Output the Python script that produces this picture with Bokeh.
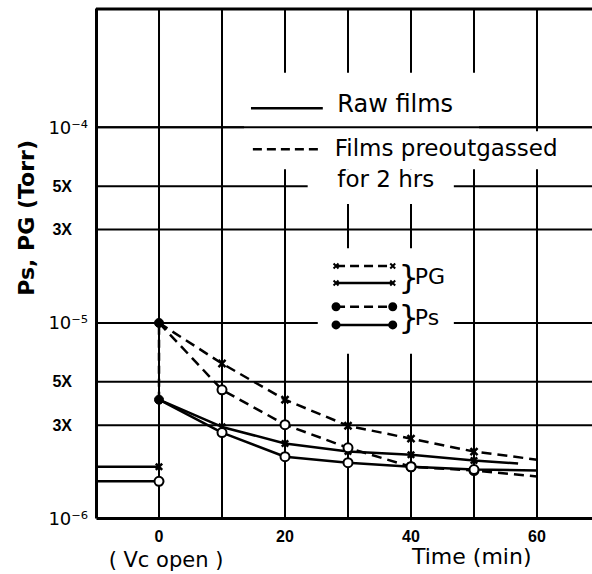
import math
from bokeh.plotting import figure
from bokeh.models import FixedTicker, Label, LogAxis, CustomJSTickFormatter
from bokeh.embed import file_html
from bokeh.resources import INLINE

# ---------------- data ----------------
time_min = [0, 10, 20, 30, 40, 50, 60]
raw_pg_time = [0, 10, 20, 30, 40, 50, 57]
raw_pg = [4.05e-6, 2.94e-6, 2.42e-6, 2.20e-6, 2.12e-6, 1.98e-6, 1.91e-6]
raw_ps = [4.05e-6, 2.75e-6, 2.07e-6, 1.93e-6, 1.84e-6, 1.78e-6, 1.76e-6]
pre_pg = [1.0e-5, 6.2e-6, 4.05e-6, 2.98e-6, 2.56e-6, 2.20e-6, 2.00e-6]
pre_ps = [1.0e-5, 4.55e-6, 3.02e-6, 2.30e-6, 1.84e-6, 1.76e-6, 1.64e-6]
base_time = [-10, 0]          # before Vc is opened
base_pg = 1.84e-6
base_ps = 1.55e-6

x_tick_values = [0, 20, 40, 60]
x_grid_values = [0, 10, 20, 30, 40, 50, 60]
y_grid_values = [1e-4, 5e-5, 3e-5, 1e-5, 5e-6, 3e-6]
y_decade_ticks = [1e-6, 1e-5, 1e-4]
y_decade_labels = ["10⁻⁶", "10⁻⁵", "10⁻⁴"]
y_mult_ticks = [3e-6, 5e-6, 3e-5, 5e-5]
y_mult_labels = ["3X", "5X", "3X", "5X"]

# ---------------- figure (frame = whole canvas) ----------------
X_MIN = -10                      # left edge of the chart box
X_START, X_END = -25.16, 68.81   # visible range incl. label margin
Y_MIN = 1e-6
Y_TOP = 10 ** -3.395             # top edge of the chart box
Y_START, Y_END = 10 ** -6.286, 10 ** -3.352

p = figure(width=592, height=574, x_range=(X_START, X_END), y_range=(Y_START, Y_END),
           y_axis_type="log", output_backend="svg", toolbar_location=None,
           min_border=0, min_border_left=0, min_border_right=0,
           min_border_top=0, min_border_bottom=0)
p.outline_line_color = None
p.background_fill_color = "white"
p.border_fill_color = "white"
p.xgrid.visible = False
p.ygrid.visible = False

FMT_CODE = """
for (let i = 0; i < vals.length; i++) {
  if (Math.abs(Math.log10(vals[i]) - Math.log10(tick)) < 1e-6) return labs[i];
}
return "";
"""

xa = p.xaxis[0]
xa.fixed_location = Y_MIN
xa.bounds = (X_MIN, X_END)
xa.ticker = FixedTicker(ticks=x_tick_values)
xa.major_tick_line_color = None
xa.minor_tick_line_color = None
xa.axis_line_width = 3
xa.major_label_text_font = "Liberation Sans"
xa.major_label_text_font_style = "bold"
xa.major_label_text_font_size = "16px"
xa.major_label_text_color = "black"
xa.major_label_standoff = 5

ya = p.yaxis[0]
ya.fixed_location = X_MIN
ya.bounds = (Y_MIN, Y_TOP)
ya.ticker = FixedTicker(ticks=y_decade_ticks)
ya.formatter = CustomJSTickFormatter(args=dict(vals=y_decade_ticks, labs=y_decade_labels),
                                     code=FMT_CODE)
ya.major_tick_line_color = None
ya.minor_tick_line_color = None
ya.axis_line_width = 3
ya.major_label_text_font = "DejaVu Sans"
ya.major_label_text_font_size = "18px"
ya.major_label_text_color = "black"
ya.major_label_standoff = 2

yb = LogAxis(fixed_location=X_MIN, bounds=(Y_MIN, Y_TOP),
             ticker=FixedTicker(ticks=y_mult_ticks),
             formatter=CustomJSTickFormatter(args=dict(vals=y_mult_ticks, labs=y_mult_labels),
                                             code=FMT_CODE),
             axis_line_color=None, major_tick_line_color=None, minor_tick_line_color=None,
             major_label_text_font="Liberation Sans", major_label_text_font_style="bold",
             major_label_text_font_size="16px", major_label_text_color="black",
             major_label_standoff=18)
p.add_layout(yb, "left")

# ---------------- grid (drawn as lines inside the chart box) ----------------
GRID_W = 2
p.segment(x0=x_grid_values, y0=[Y_MIN] * len(x_grid_values),
          x1=x_grid_values, y1=[Y_TOP] * len(x_grid_values),
          line_color="black", line_width=GRID_W)
p.segment(x0=[X_MIN] * len(y_grid_values), y0=y_grid_values,
          x1=[X_END] * len(y_grid_values), y1=y_grid_values,
          line_color="black", line_width=GRID_W)
# white panels behind the legend texts
p.quad(left=[13.5, 50.8, 23.6, 25.2], right=[50.8, 64.1, 46.8, 46.8],
       bottom=[6.1e-5, 6.1e-5, 4.05e-5, 6.95e-6], top=[1.9e-4, 9.55e-5, 6.1e-5, 2.41e-5],
       fill_color="white", line_color=None)
p.segment(x0=[X_MIN], y0=[y_grid_values[0]], x1=[X_END], y1=[y_grid_values[0]],
          line_color="black", line_width=GRID_W)
# top edge of the box
p.segment(x0=[X_MIN], y0=[Y_TOP], x1=[X_END], y1=[Y_TOP], line_color="black", line_width=3)

LW = 2.5
DASH = "10 6"

# before opening the valve
p.line(base_time, [base_pg, base_pg], line_color="black", line_width=LW)
p.line(base_time, [base_ps, base_ps], line_color="black", line_width=LW)
p.scatter([base_time[-1]], [base_pg], marker="x", size=9, line_width=2.5, line_color="black")
p.scatter([base_time[-1]], [base_ps], marker="circle", size=9, line_width=2,
          line_color="black", fill_color="white")

# jump at t = 0
p.segment(x0=[time_min[0]], y0=[raw_pg[0]], x1=[time_min[0]], y1=[pre_pg[0]],
          line_color="black", line_width=LW, line_dash="8 5")

# curves
p.line(time_min, pre_pg, line_color="black", line_width=LW, line_dash=DASH)
p.line(time_min, pre_ps, line_color="black", line_width=LW, line_dash=DASH)
p.line(raw_pg_time, raw_pg, line_color="black", line_width=LW)
p.line(time_min, raw_ps, line_color="black", line_width=LW)

p.scatter(time_min[1:6], pre_pg[1:6], marker="x", size=10, line_width=2.5, line_color="black")
p.scatter(raw_pg_time[1:6], raw_pg[1:6], marker="x", size=9, line_width=2.5, line_color="black")
p.scatter(time_min[1:6], pre_ps[1:6], marker="circle", size=9, line_width=2,
          line_color="black", fill_color="white")
p.scatter(time_min[1:6], raw_ps[1:6], marker="circle", size=9, line_width=2,
          line_color="black", fill_color="white")
p.scatter([time_min[0], time_min[0]], [pre_pg[0], raw_pg[0]], marker="circle", size=9,
          line_color="black", fill_color="black")

# ---------------- legend ----------------
p.line([14.6, 26.0], [1.25e-4, 1.25e-4], line_color="black", line_width=LW)
p.line([14.9, 26.0], [7.73e-5, 7.73e-5], line_color="black", line_width=LW, line_dash="9 5")
legend_font = "DejaVu Sans"
p.add_layout(Label(x=28.3, y=1.308e-4, text="Raw  films", text_font=legend_font,
                   text_font_size="24px", text_baseline="middle", text_color="black"))
p.add_layout(Label(x=27.9, y=7.79e-5, text="Films preoutgassed", text_font=legend_font,
                   text_font_size="23px", text_baseline="middle", text_color="black"))
p.add_layout(Label(x=28.3, y=5.41e-5, text="for  2 hrs", text_font=legend_font,
                   text_font_size="23px", text_baseline="middle", text_color="black"))

leg_y = [1.955e-5, 1.60e-5, 1.21e-5, 9.77e-6]
leg_dash = ["9 5", "solid", "9 5", "solid"]
leg_marker = ["x", "x", "circle", "circle"]
for yy, dd, mk in zip(leg_y, leg_dash, leg_marker):
    p.line([28.1, 37.1], [yy, yy], line_color="black", line_width=LW, line_dash=dd)
    p.scatter([28.1, 37.1], [yy, yy], marker=mk, size=7, line_width=2,
              line_color="black", fill_color="black")
for yy, tt in zip([1.72e-5, 1.07e-5], ["PG", "Ps"]):
    p.add_layout(Label(x=38.0, y=yy, text="}", text_font=legend_font, text_font_size="32px",
                       text_baseline="middle", text_color="black"))
    p.add_layout(Label(x=40.6, y=yy, text=tt, text_font=legend_font, text_font_size="22px",
                       text_baseline="middle", text_color="black"))

# ---------------- axis titles ----------------
p.add_layout(Label(x=-21.1, y=3.6e-5, text="Ps, PG  (Torr)", angle=math.pi / 2,
                   text_align="center", text_baseline="middle", text_font="DejaVu Sans",
                   text_font_style="bold", text_font_size="22px", text_color="black"))
p.add_layout(Label(x=0, y=Y_MIN, x_offset=7, y_offset=-41, text="( Vc open )",
                   text_align="center", text_baseline="middle", text_font="DejaVu Sans",
                   text_font_size="21px", text_color="black"))
p.add_layout(Label(x=40, y=Y_MIN, x_offset=1, y_offset=-38, text="Time (min)",
                   text_align="left", text_baseline="middle", text_font="DejaVu Sans",
                   text_font_size="22px", text_color="black"))

open("out.html", "w").write(file_html(p, INLINE))
